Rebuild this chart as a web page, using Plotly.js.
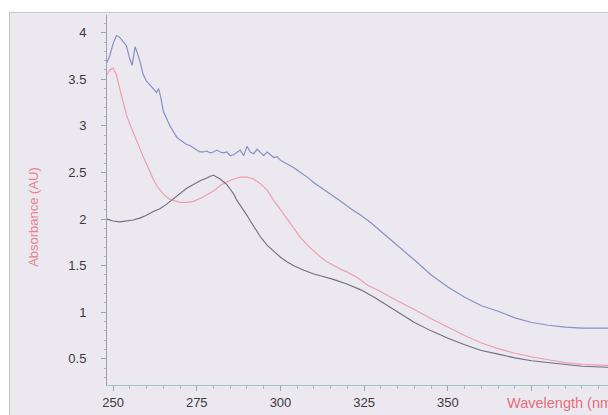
<!DOCTYPE html>
<html>
<head>
<meta charset="utf-8">
<script src="https://cdn.plot.ly/plotly-3.0.1.min.js"></script>
<style>
html,body{margin:0;padding:0;background:#ffffff;}
#chart{width:608px;height:415px;}
</style>
</head>
<body>
<div id="chart"></div>
<script>
// Wavelength (nm) and absorbance (AU)
const blueWl = [248.2,249,250,251,252,253,254,255,255.7,256.6,257.3,258,259,260,261,262,263,263.6,264.3,265,266,267,268,269,270,271,272,273,274,275,276,277,278,279,280,281,282,283,284,285,286,287,288,289,290,291,292,293,294,295,296,297,298,299,300,302,304,306,308,310,312,315,318,321,324,327,330,333,336,340,345,350,355,360,365,370,375,380,385,390,397.8];
const blueAbs = [3.68,3.75,3.88,3.97,3.95,3.90,3.86,3.72,3.65,3.85,3.78,3.70,3.55,3.48,3.44,3.40,3.36,3.40,3.30,3.16,3.08,3.00,2.94,2.88,2.85,2.82,2.80,2.79,2.76,2.74,2.72,2.72,2.73,2.71,2.72,2.74,2.72,2.71,2.72,2.68,2.69,2.72,2.74,2.68,2.78,2.72,2.70,2.75,2.71,2.68,2.72,2.69,2.66,2.67,2.63,2.59,2.55,2.50,2.45,2.39,2.34,2.27,2.19,2.11,2.04,1.96,1.87,1.77,1.68,1.56,1.40,1.27,1.16,1.07,1.01,0.94,0.89,0.86,0.84,0.83,0.83];

const redWl = [248.2,249,250,251,252,253,254,255,256,257,258,259,260,261,262,263,264,265,266,267,268,270,272,274,276,278,280,282,284,286,288,290,292,294,296,298,300,302,304,306,308,310,312,314,316,318,320,323,326,330,335,340,345,350,355,360,365,370,375,380,385,390,397.8];
const redAbs = [3.55,3.60,3.62,3.55,3.40,3.25,3.12,3.02,2.93,2.83,2.75,2.67,2.59,2.50,2.43,2.36,2.31,2.27,2.24,2.21,2.20,2.18,2.18,2.19,2.22,2.26,2.30,2.36,2.40,2.43,2.45,2.45,2.43,2.38,2.31,2.20,2.10,2.00,1.90,1.80,1.72,1.65,1.59,1.54,1.50,1.46,1.43,1.37,1.29,1.22,1.12,1.03,0.93,0.84,0.75,0.67,0.61,0.56,0.52,0.49,0.46,0.44,0.43];

const blackWl = [248.2,250,252,254,256,258,260,262,264,266,268,270,272,274,276,278,279,280,281,282,283,284,285,286,287,288,289,290,291,292,293,294,296,298,300,302,304,307,310,313,316,320,324,328,332,336,340,345,350,355,360,365,370,375,380,385,390,397.8];
const blackAbs = [2.00,1.98,1.97,1.98,1.99,2.01,2.04,2.08,2.11,2.16,2.22,2.28,2.33,2.37,2.41,2.44,2.46,2.47,2.45,2.43,2.40,2.37,2.32,2.27,2.20,2.15,2.10,2.04,1.98,1.92,1.87,1.81,1.72,1.65,1.59,1.54,1.50,1.45,1.41,1.38,1.35,1.30,1.24,1.16,1.07,0.98,0.89,0.80,0.72,0.65,0.59,0.55,0.51,0.48,0.46,0.44,0.42,0.41];

const xTickVals = [250,275,300,325,350,375,400];
const xTickText = ['250','275','300','325','350','',''];
const yTickVals = [0.5,1,1.5,2,2.5,3,3.5,4];
const yTickText = ['0.5','1','1.5','2','2.5','3','3.5','4'];

const bg = '#ece8ef';
const traces = [
  {x: blueWl, y: blueAbs, type:'scatter', mode:'lines', line:{color:'#8491c6', width:1.2}, hoverinfo:'skip'},
  {x: redWl, y: redAbs, type:'scatter', mode:'lines', line:{color:'#ef9fae', width:1.2}, hoverinfo:'skip'},
  {x: blackWl, y: blackAbs, type:'scatter', mode:'lines', line:{color:'#6f6e82', width:1.1}, hoverinfo:'skip'}
];

const layout = {
  width:608, height:415,
  margin:{l:107, r:0, t:15, b:30},
  paper_bgcolor: bg, plot_bgcolor: bg,
  showlegend:false,
  font:{family:'"Liberation Sans", Arial, sans-serif', size:13, color:'#3a3a3a'},
  xaxis:{
    range:[248.2, 397.8], tickmode:'array', tickvals:xTickVals, ticktext:xTickText,
    showgrid:false, zeroline:false, showline:true, linecolor:'#9fc4c9', linewidth:1,
    ticks:'outside', ticklen:5, tickcolor:'#9aa8b0',
    minor:{dtick:5, tick0:250, ticklen:3, ticks:'outside', tickcolor:'#a8b4bc', showgrid:false},
    tickfont:{size:13, color:'#3a3a3a'}
  },
  yaxis:{
    range:[0.219, 4.19], tickmode:'array', tickvals:yTickVals, ticktext:yTickText,
    showgrid:false, zeroline:false, showline:true, linecolor:'#98a2b2', linewidth:1,
    ticks:'outside', ticklen:5, tickcolor:'#9aa4b0',
    minor:{dtick:0.1, tick0:0, ticklen:2, ticks:'outside', tickcolor:'#aab2bc', showgrid:false},
    tickfont:{size:13, color:'#3a3a3a'}, ticklabelstandoff:12
  },
  annotations:[
    {text:'Absorbance (AU)', xref:'paper', yref:'paper', x:-0.148, y:0.454, xanchor:'center', yanchor:'middle',
     textangle:-90, showarrow:false, font:{size:13, color:'#e58590'}},
    {text:'Wavelength (nm)', xref:'paper', yref:'paper', x:0.794, y:-0.049, xanchor:'left', yanchor:'middle',
     showarrow:false, font:{size:14.5, color:'#e36e7c'}}
  ],
  shapes:[
    {type:'rect', xref:'paper', yref:'paper', x0:-0.22, x1:1.01, y0:1.008, y1:1.05, fillcolor:'#ffffff', line:{width:0}, layer:'above'},
    {type:'rect', xref:'paper', yref:'paper', x0:-0.22, x1:-0.1956, y0:-0.1, y1:1.05, fillcolor:'#ffffff', line:{width:0}, layer:'above'},
    {type:'line', xref:'paper', yref:'paper', x0:-0.1956, x1:1.01, y0:1.007, y1:1.007, line:{color:'#c8c4cc', width:1}},
    {type:'line', xref:'paper', yref:'paper', x0:-0.1946, x1:-0.1946, y0:-0.1, y1:1.007, line:{color:'#c8c4cc', width:1}}
  ]
};

Plotly.newPlot('chart', traces, layout, {staticPlot:true, displayModeBar:false});
</script>
</body>
</html>
